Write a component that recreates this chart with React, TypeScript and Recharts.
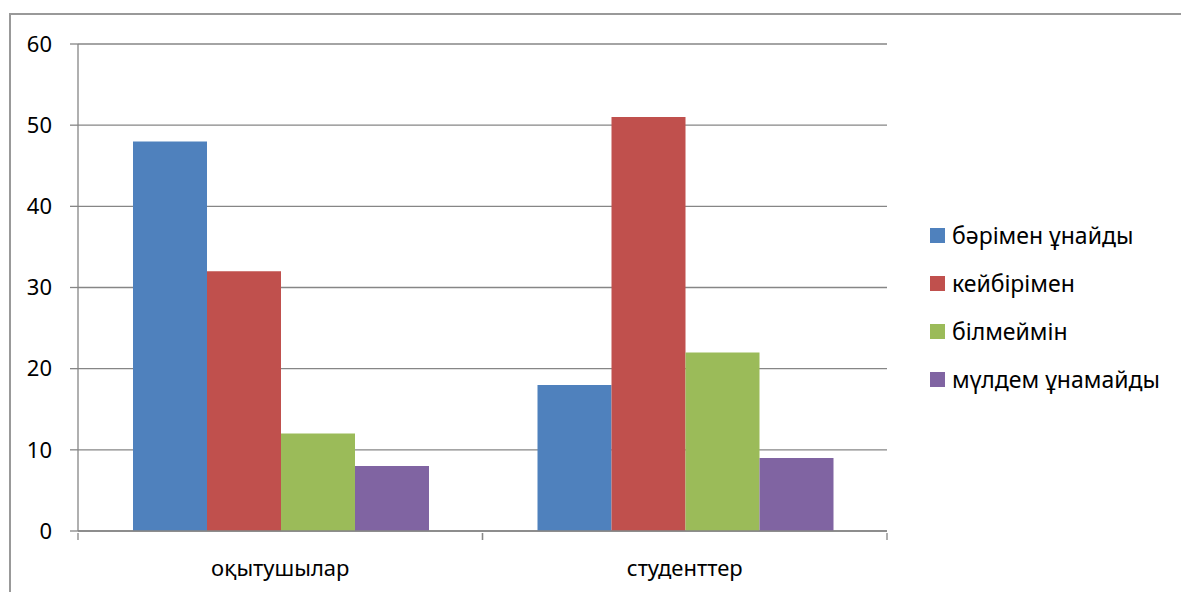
import React from 'react';
import { BarChart, Bar, XAxis, YAxis, CartesianGrid } from 'recharts';

// categories on the x axis
const groups = ['оқытушылар', 'студенттер'];

// series names (legend) and their values per group
const seriesNames = ['бәрімен ұнайды', 'кейбірімен', 'білмеймін', 'мүлдем ұнамайды'];
const seriesColors = ['#4F81BD', '#C0504D', '#9BBB59', '#8064A2'];
const barimenUnaidy = [48, 18];
const keibirimen = [32, 51];
const bilmeimin = [12, 22];
const muldemUnamaidy = [8, 9];

const yTicks = [0, 10, 20, 30, 40, 50, 60];

const seriesValues = [barimenUnaidy, keibirimen, bilmeimin, muldemUnamaidy];
const data = groups.map((g, i) => {
  const row: Record<string, string | number> = { name: g };
  seriesValues.forEach((vals, s) => {
    row['s' + s] = vals[i];
  });
  return row;
});

const W = 1181;
const H = 592;
const xAxisHeight = 30;
const margin = { top: 44, right: 294, bottom: 61 - xAxisHeight, left: 0 };
const yAxisWidth = 78;
const halfBand = (W - margin.left - margin.right - yAxisWidth) / groups.length / 2;

const FONT = '"Noto Sans", sans-serif';
const GRAY = '#868686';

// category label plus the short boundary marks under the axis
const XTick = (props: any) => {
  const { x, y, payload } = props;
  return (
    <g>
      <line x1={x - halfBand} x2={x - halfBand} y1={y} y2={y + 7} stroke={GRAY} strokeWidth={1.3} />
      <line x1={x + halfBand} x2={x + halfBand} y1={y} y2={y + 7} stroke={GRAY} strokeWidth={1.3} />
      <text x={x} y={y + 43} textAnchor="middle" fill="#000" fontSize={22} fontFamily={FONT}>
        {payload.value}
      </text>
    </g>
  );
};

const App: React.FC = () => {
  return (
    <div style={{ position: 'absolute', left: 0, top: 0, width: W, height: H, background: '#fff', overflow: 'hidden' }}>
      <div
        style={{
          position: 'absolute',
          left: 9,
          top: 13,
          width: W,
          height: H,
          borderTop: '2px solid #999',
          borderLeft: '2px solid #999',
        }}
      />
      <div style={{ position: 'absolute', left: 0, top: 0 }}>
        <BarChart width={W} height={H} data={data} margin={margin} barCategoryGap={55} barGap={0}>
          <CartesianGrid vertical={false} stroke={GRAY} strokeWidth={1.3} />
          <XAxis
            dataKey="name"
            height={xAxisHeight}
            axisLine={{ stroke: GRAY, strokeWidth: 1.3 }}
            tickLine={false}
            tickSize={0}
            tick={<XTick />}
            interval={0}
          />
          <YAxis
            width={yAxisWidth}
            domain={[0, 60]}
            ticks={yTicks}
            axisLine={{ stroke: GRAY, strokeWidth: 1.3 }}
            tickLine={{ stroke: GRAY, strokeWidth: 1.3 }}
            tickSize={8}
            tickMargin={18}
            tick={{ fill: '#000', fontSize: 22, fontFamily: FONT }}
          />
          {seriesNames.map((n, i) => (
            <Bar key={n} dataKey={'s' + i} name={n} fill={seriesColors[i]} isAnimationActive={false} />
          ))}
        </BarChart>
      </div>
      <div style={{ position: 'absolute', left: 930, top: 211, fontFamily: FONT, fontSize: 23, color: '#000' }}>
        {seriesNames.map((n, i) => (
          <div key={n} style={{ display: 'flex', alignItems: 'center', height: 48 }}>
            <span style={{ display: 'inline-block', width: 15, height: 15, background: seriesColors[i], marginRight: 7 }} />
            <span>{n}</span>
          </div>
        ))}
      </div>
    </div>
  );
};

export default App;
